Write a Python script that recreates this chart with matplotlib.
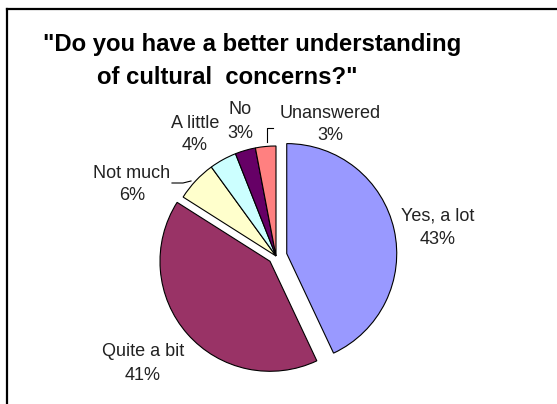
import matplotlib
matplotlib.use("Agg")
import matplotlib.pyplot as plt

# Survey responses
categories = ["Yes, a lot", "Quite a bit", "Not much", "A little", "No", "Unanswered"]
percents = [43, 41, 6, 4, 3, 3]
colors = ["#9999FF", "#993366", "#FFFFCC", "#CCFFFF", "#660066", "#FF8080"]
explode_px = [11, 8, 0, 0, 0, 0]

W, H = 557, 404
fig = plt.figure(figsize=(W / 100, H / 100), dpi=100)
ax = fig.add_axes([0, 0, 1, 1])


def py(y):
    """Convert a top-based pixel row into the axes' y coordinate."""
    return H - y


# Pie centred in the lower half of the panel
cx, cy, r = 276, 256, 110
ax.pie(percents, colors=colors, explode=explode_px, startangle=90,
       counterclock=False, center=(cx, py(cy)), radius=r,
       wedgeprops=dict(edgecolor="black", linewidth=0.8), frame=True)
ax.set_xlim(0, W)
ax.set_ylim(0, H)
ax.set_aspect("equal")
ax.axis("off")

# Panel border (top and left edges)
ax.plot([7, W + 5], [py(9), py(9)], color="black", lw=1.6, clip_on=False)
ax.plot([7, 7], [py(9), py(H + 5)], color="black", lw=1.6, clip_on=False)

# Title
title_font = dict(family="Liberation Sans", weight="bold", size=17.2, color="black")
ax.text(43, py(45), '"Do you have a better understanding', ha="left", va="center", **title_font)
ax.text(97, py(77), 'of cultural  concerns?"', ha="left", va="center", **title_font)

# Slice labels
label_pos = {
    "Yes, a lot": (438, 216),
    "Quite a bit": (143, 352),
    "Not much": (132, 173),
    "A little": (195, 123),
    "No": (240, 110),
    "Unanswered": (330, 113),
}
line_gap = 23
for name, pct in zip(categories, percents):
    x, y = label_pos[name]
    ax.text(x, py(y), name, ha="center", va="center",
            family="Liberation Sans", size=13, color="#222222")
    ax.text(x, py(y + line_gap), f"{pct}%", ha="center", va="center",
            family="Liberation Sans", size=13, color="#222222")

# Leader lines
ax.plot([267, 267, 273], [py(142), py(128), py(128)], color="black", lw=0.8)
ax.plot([172, 183, 191], [py(183), py(183), py(181)], color="black", lw=0.8)

fig.savefig("out.png", dpi=100, facecolor="white")
